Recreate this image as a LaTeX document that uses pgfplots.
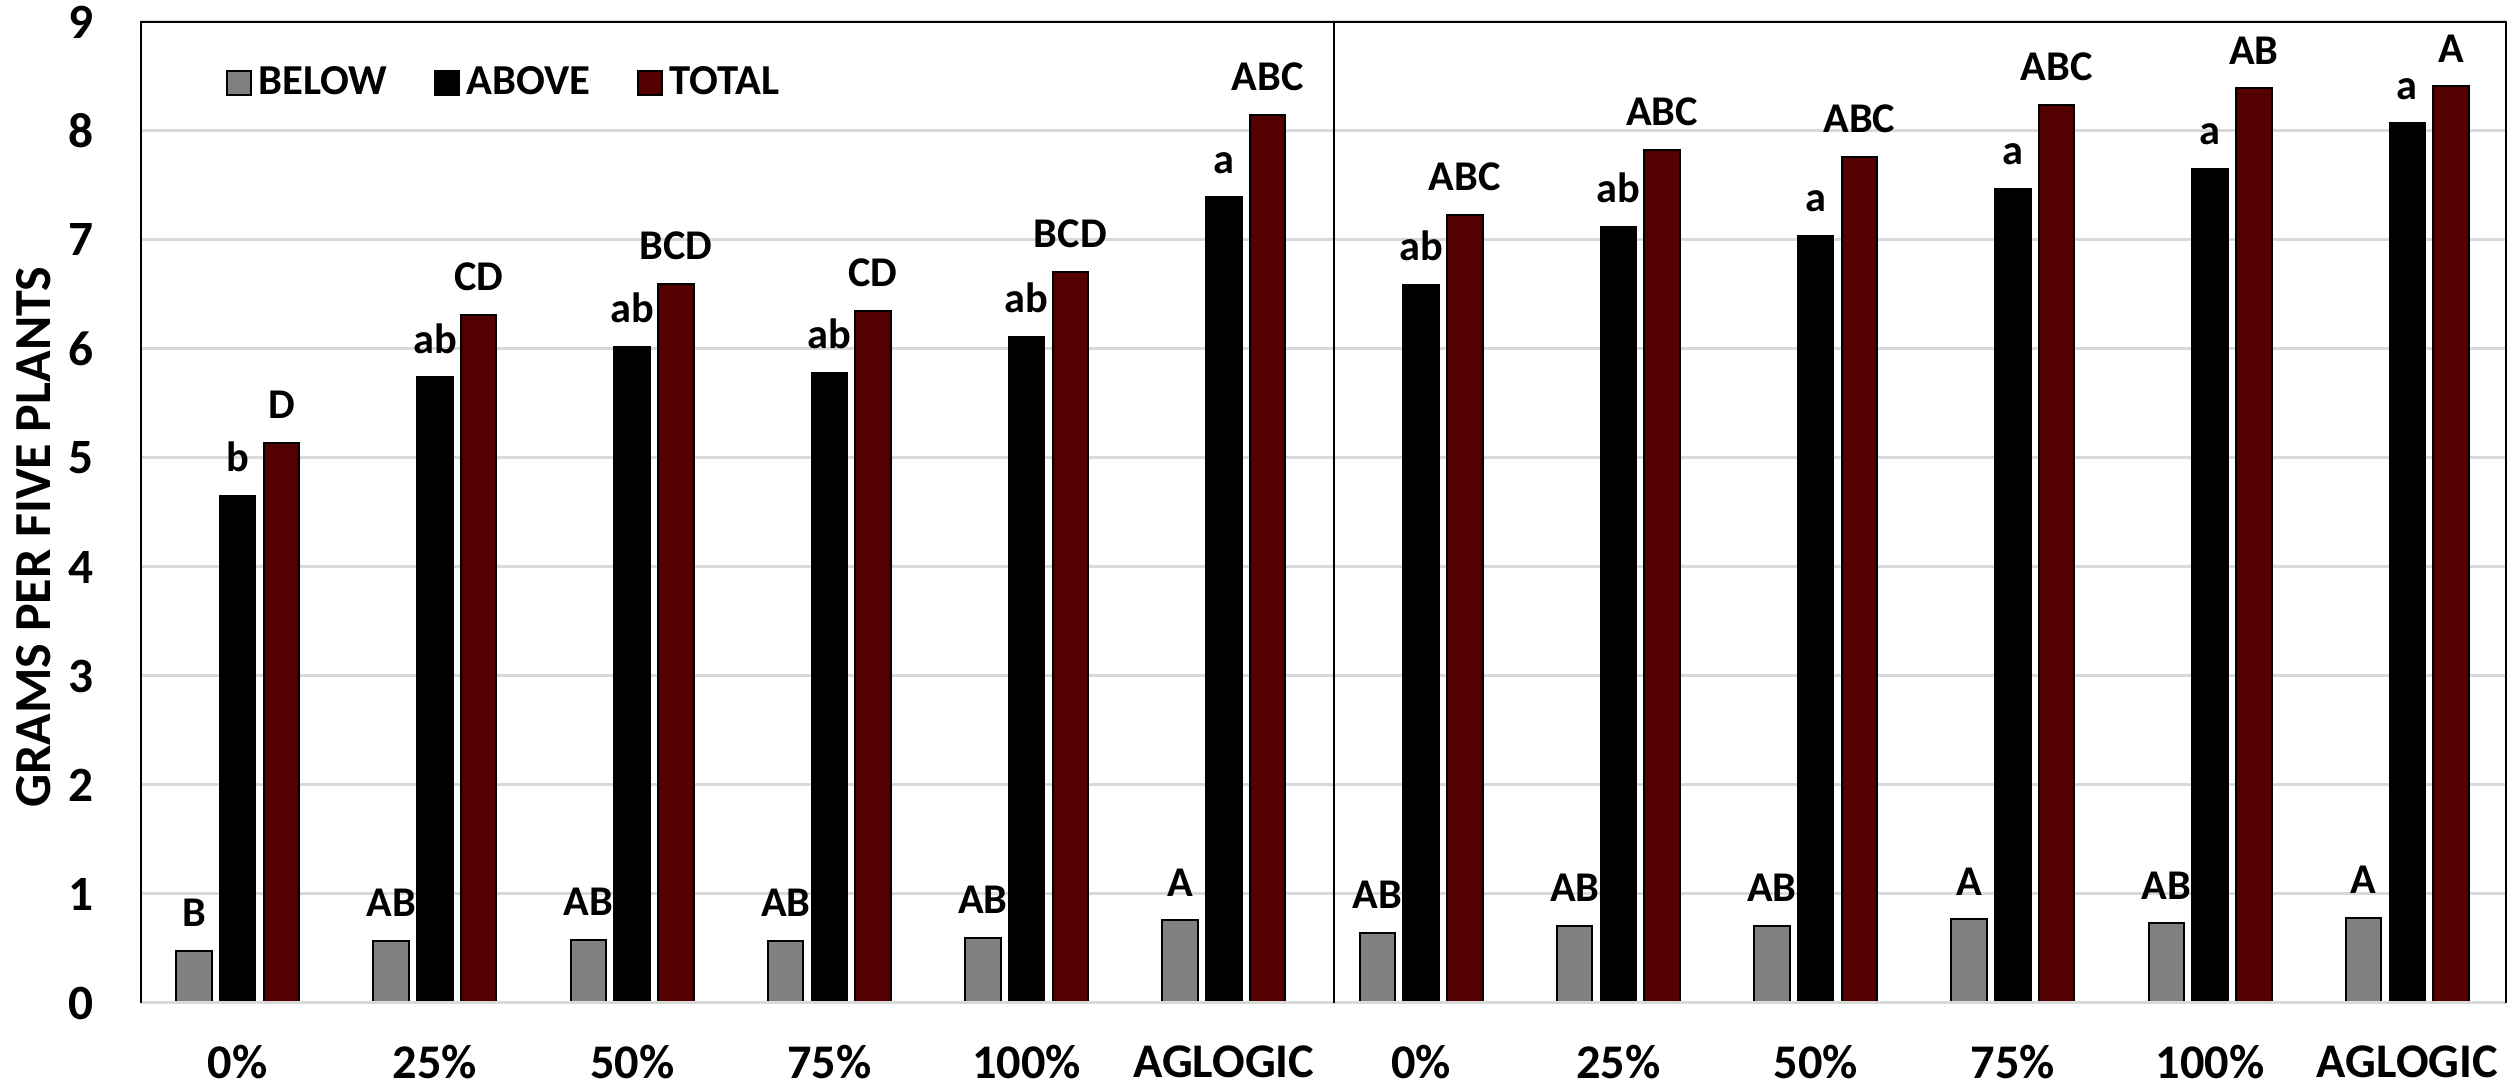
\documentclass[border=0pt]{standalone}
\usepackage{pgfplots}
\usepackage{pgfplotstable}
\pgfplotsset{compat=1.18}
\usepackage{fontspec}
\setmainfont{Carlito}
\definecolor{belowc}{RGB}{128,128,128}
\definecolor{totalc}{RGB}{82,0,0}
\definecolor{gridc}{RGB}{217,217,217}

\pgfplotstableread{
x below above total lb la lt
0 0.48 4.65 5.14 B b D
1 0.57 5.74 6.31 AB ab CD
2 0.58 6.02 6.60 AB ab BCD
3 0.57 5.78 6.35 AB ab CD
4 0.60 6.11 6.71 AB ab BCD
5 0.76 7.39 8.15 A a ABC
6 0.645 6.59 7.23 AB ab ABC
7 0.71 7.12 7.83 AB ab ABC
8 0.71 7.04 7.76 AB a ABC
9 0.77 7.47 8.24 A a ABC
10 0.73 7.65 8.39 AB a AB
11 0.78 8.07 8.41 A a A
}\datatable

\begin{document}
\begin{tikzpicture}
\begin{axis}[
  scale only axis, width=709.5pt, height=294.3pt,
  xmin=-0.49, xmax=11.5, ymin=0, ymax=9,
  clip=false,
  ybar, bar width=0.18,
  xtick={0,...,11},
  xticklabels={0\%,25\%,50\%,75\%,100\%,AGLOGIC,0\%,25\%,50\%,75\%,100\%,AGLOGIC},
  ytick={0,...,9},
  ymajorgrids, grid style={gridc, line width=0.9pt},
  major tick length=0pt,
  axis line style={draw=none},
  /pgf/number format/assume math mode=true,
  xticklabel style={font=\bfseries\fontsize{14.5}{14.5}\selectfont, anchor=north, inner sep=0pt, yshift=-12.6pt},
  yticklabel style={font=\bfseries\fontsize{14.8}{14.8}\selectfont, anchor=east, inner sep=0pt, xshift=-14pt},
  ylabel={GRAMS PER FIVE PLANTS},
  ylabel style={font=\bfseries\fontsize{15.6}{15.6}\selectfont, at={(rel axis cs:-0.0455,0.475)}, anchor=center, inner sep=0pt},
  nodes near coords, point meta=explicit symbolic,
  every node near coord/.append style={font=\bfseries\fontsize{12.7}{12.7}\selectfont, anchor=south, inner sep=0pt, yshift=6.9pt, text=black},
  legend columns=3,
  legend style={at={(rel axis cs:0.0355,0.938)}, anchor=west, draw=none, fill=none,
    font=\bfseries\fontsize{12.8}{12.8}\selectfont, inner sep=0pt,
    /tikz/every even column/.append style={column sep=12pt}},
]
\addplot[fill=belowc, draw=black, line width=0.6pt, bar shift=-0.2215,
  legend image code/.code={\draw[fill=belowc,draw=black,line width=0.6pt] (0pt,-3.6pt) rectangle (7.2pt,3.6pt);}]
  table[x=x, y=below, meta=lb]{\datatable};
\addlegendentry{BELOW}
\addplot[fill=black, draw=black, line width=0.6pt, bar shift=0,
  legend image code/.code={\draw[fill=black,draw=black,line width=0.6pt] (0pt,-3.6pt) rectangle (7.2pt,3.6pt);}]
  table[x=x, y=above, meta=la]{\datatable};
\addlegendentry{ABOVE}
\addplot[fill=totalc, draw=black, line width=0.6pt, bar shift=0.2215,
  legend image code/.code={\draw[fill=totalc,draw=black,line width=0.6pt] (0pt,-3.6pt) rectangle (7.2pt,3.6pt);}]
  table[x=x, y=total, meta=lt]{\datatable};
\addlegendentry{TOTAL}
\draw[gridc, line width=0.9pt] (rel axis cs:0,0) -- (rel axis cs:1,0);
\draw[black, line width=0.6pt] (rel axis cs:0,0) -- (rel axis cs:0,1) -- (rel axis cs:1,1) -- (rel axis cs:1,0);
\draw[black, line width=0.6pt] (axis cs:5.56,0) -- (axis cs:5.56,9);
\coordinate (BL) at (rel axis cs:0,0);
\coordinate (TR) at (rel axis cs:1,1);
\end{axis}
\pgfresetboundingbox
\path[use as bounding box] ([xshift=-42.3pt,yshift=-25.2pt]BL) rectangle ([xshift=2.4pt,yshift=6.6pt]TR);
\end{tikzpicture}
\end{document}
